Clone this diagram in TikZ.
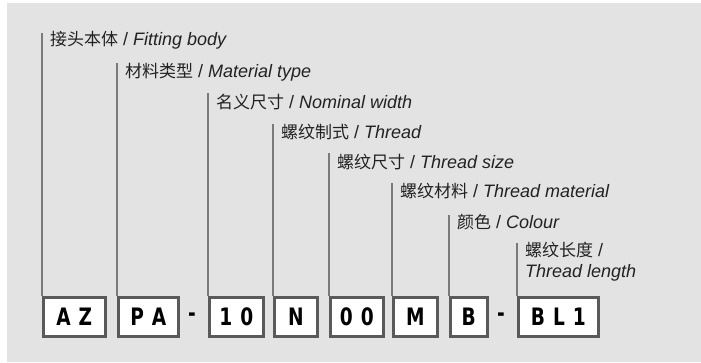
\documentclass[tikz,border=0pt]{standalone}
\usepackage{fontspec}
\setmainfont{Liberation Sans}
\newfontfamily\cjk{Noto Sans CJK SC}
\newfontfamily\boxfont{DejaVu Sans Condensed Bold}[FakeStretch=0.86]
\newcommand\lsp{\hspace{8pt}}
\newcommand\zh[1]{{\cjk\fontsize{17}{22}\selectfont #1}}
\definecolor{bggrey}{HTML}{E3E3E3}
\definecolor{boxline}{HTML}{5A5A5A}
\definecolor{leader}{HTML}{7A7A7A}
\definecolor{txt}{HTML}{222222}
\tikzset{
  codebox/.style={draw=boxline, line width=2.6pt, fill=white, inner sep=0pt,
    minimum height=39pt, anchor=north west, text=black,
    font=\boxfont\fontsize{24}{24}\selectfont},
  dashmark/.style={inner sep=0pt, text=black, font=\boxfont\fontsize{24}{24}\selectfont},
  leaderline/.style={draw=leader, line width=1.4pt},
  lbl/.style={anchor=west, inner sep=0pt, text=txt, font=\fontsize{18}{22}\selectfont, align=left}
}
\begin{document}
\begin{tikzpicture}[x=1pt,y=1pt]
\useasboundingbox (0,0) rectangle (701,363);
\fill[bggrey] (7,1) rectangle (701,360);
% boxes (top at y=363-296=67)
\node[codebox, minimum width=62pt] (az) at (42,67) {A\lsp Z};
\node[codebox, minimum width=60pt] (pa) at (117,67) {P\lsp A};
\node[dashmark] (d1) at (192,46) {-};
\node[codebox, minimum width=54pt] (nw) at (208,67) {1\lsp 0};
\node[codebox, minimum width=43pt] (n) at (273,67) {N};
\node[codebox, minimum width=53pt] (oo) at (329,67) {0\lsp 0};
\node[codebox, minimum width=44pt] (m) at (392,67) {M};
\node[codebox, minimum width=37pt] (b) at (449,67) {B};
\node[dashmark] (d2) at (501,46) {-};
\node[codebox, minimum width=80pt] (bl) at (517,67) {B\lsp L\lsp 1};
% leader tops
\coordinate (t1) at (42,330);
\coordinate (t2) at (117,300);
\coordinate (t3) at (208,270);
\coordinate (t4) at (273,239);
\coordinate (t5) at (329,210);
\coordinate (t6) at (392,180);
\coordinate (t7) at (449,148);
\coordinate (t8) at (517,120);
\foreach \b/\t in {az/t1,pa/t2,nw/t3,n/t4,oo/t5,m/t6,b/t7,bl/t8}
  \draw[leaderline] (\b.north west) -- (\t);
% labels
\node[lbl] (l1) at (50,323) {\zh{接头本体} / \textit{Fitting body}};
\node[lbl] (l2) at (125,291) {\zh{材料类型} / \textit{Material type}};
\node[lbl] (l3) at (216,261) {\zh{名义尺寸} / \textit{Nominal width}};
\node[lbl] (l4) at (281,231) {\zh{螺纹制式} / \textit{Thread}};
\node[lbl] (l5) at (337,201) {\zh{螺纹尺寸} / \textit{Thread size}};
\node[lbl] (l6) at (400,172) {\zh{螺纹材料} / \textit{Thread material}};
\node[lbl] (l7) at (457,141) {\zh{颜色} / \textit{Colour}};
\node[lbl, anchor=north west] (l8) at (525,121) {\zh{螺纹长度} /\\[-1pt] \textit{Thread length}};
\end{tikzpicture}
\end{document}
